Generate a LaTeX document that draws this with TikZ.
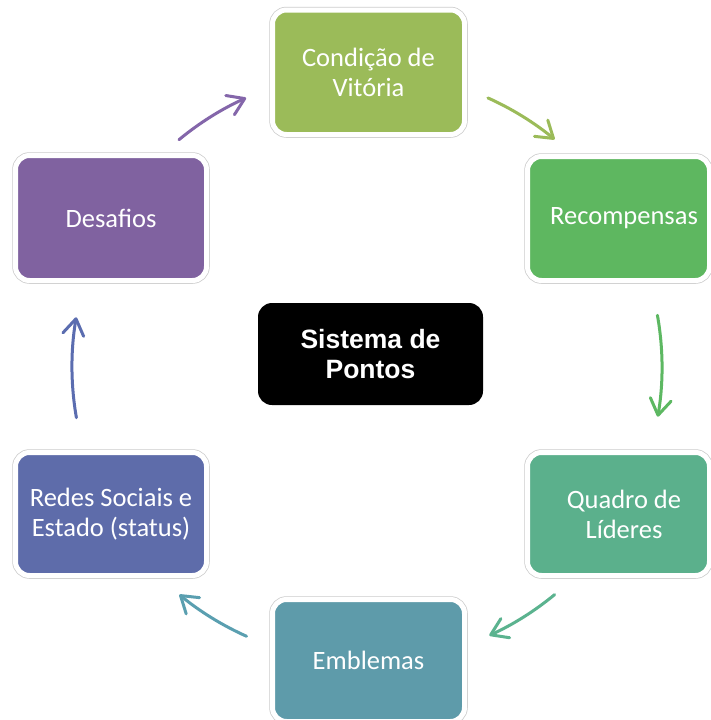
\documentclass[tikz,border=0pt]{standalone}
\usepackage{fontspec}
\setmainfont{Carlito}
\newfontfamily\centerfont{Liberation Sans}
\usetikzlibrary{arrows.meta,calc}
\definecolor{cVit}{HTML}{9BBB59}
\definecolor{cRec}{HTML}{5EB760}
\definecolor{cQua}{HTML}{5BB08C}
\definecolor{cEmb}{HTML}{5E9BAA}
\definecolor{cRed}{HTML}{5E6CAA}
\definecolor{cDes}{HTML}{8062A0}
\definecolor{aVit}{HTML}{9BBB59}
\definecolor{aRec}{HTML}{5DB862}
\definecolor{aQua}{HTML}{5BB38F}
\definecolor{aEmb}{HTML}{5A9FB0}
\definecolor{aRed}{HTML}{5B6DB0}
\definecolor{aDes}{HTML}{8466AA}
\begin{document}
\begin{tikzpicture}[x=1pt,y=1pt,
  box/.style={rectangle, rounded corners=14pt, draw=white, line width=5pt,
    preaction={draw=black!20, line width=6.5pt},
    text=white, font=\fontsize{26.5}{30}\selectfont, align=center, inner sep=0pt},
  boxlabel/.style={text=white, font=\fontsize{26.5}{30}\selectfont, align=center},
  arr/.style={line width=3pt, line cap=round, -{Straight Barb[length=16pt,width=21pt,round]}},
]
\useasboundingbox (0,0) rectangle (710,-720);
\fill[white] (0,0) rectangle (710,-720);

\node[box, fill=cVit, minimum width=192pt, minimum height=124.5pt] (vit) at (368.5,-72.25) {Condição de\\Vitória};
\node[box, fill=cRec, minimum width=182pt, minimum height=124pt,
  label={[boxlabel, xshift=5.5pt]center:Recompensas}] (rec) at (618.5,-218.5) {};
\node[box, fill=cQua, minimum width=182pt, minimum height=123pt,
  label={[boxlabel, xshift=5.5pt]center:Quadro de\\Líderes}] (qua) at (618.5,-514) {};
\node[box, fill=cEmb, minimum width=192pt, minimum height=122pt] (emb) at (368.5,-660.5) {Emblemas};
\node[box, fill=cRed, minimum width=191pt, minimum height=123pt] (red) at (111,-514) {Redes Sociais e\\Estado (status)};
\node[box, fill=cDes, minimum width=191pt, minimum height=125pt] (des) at (111,-218) {Desafios};

\node[rectangle, rounded corners=14pt, fill=black, text=white, minimum width=225pt, minimum height=102pt,
  align=center, font=\centerfont\bfseries\fontsize{26.5}{30}\selectfont] (sis) at (370.5,-354) {Sistema de\\Pontos};

\coordinate (C) at (367,-367);
\coordinate (a1) at ($(C)+(65.8:295)$);
\coordinate (a2) at ($(C)+(10.1:295)$);
\coordinate (a3) at ($(C)+(-50.5:295)$);
\coordinate (a4) at ($(C)+(-114.1:295)$);
\coordinate (a5) at ($(C)+(189.9:295)$);
\coordinate (a6) at ($(C)+(129.6:295)$);
\draw[arr, draw=aVit] (a1) arc[start angle=65.8, end angle=50.5, radius=295pt];
\draw[arr, draw=aRec] (a2) arc[start angle=10.1, end angle=-9.7, radius=295pt];
\draw[arr, draw=aQua] (a3) arc[start angle=-50.5, end angle=-65.5, radius=295pt];
\draw[arr, draw=aEmb] (a4) arc[start angle=-114.1, end angle=-129.5, radius=295pt];
\draw[arr, draw=aRed] (a5) arc[start angle=189.9, end angle=170.3, radius=295pt];
\draw[arr, draw=aDes] (a6) arc[start angle=129.6, end angle=114.2, radius=295pt];
\end{tikzpicture}
\end{document}
